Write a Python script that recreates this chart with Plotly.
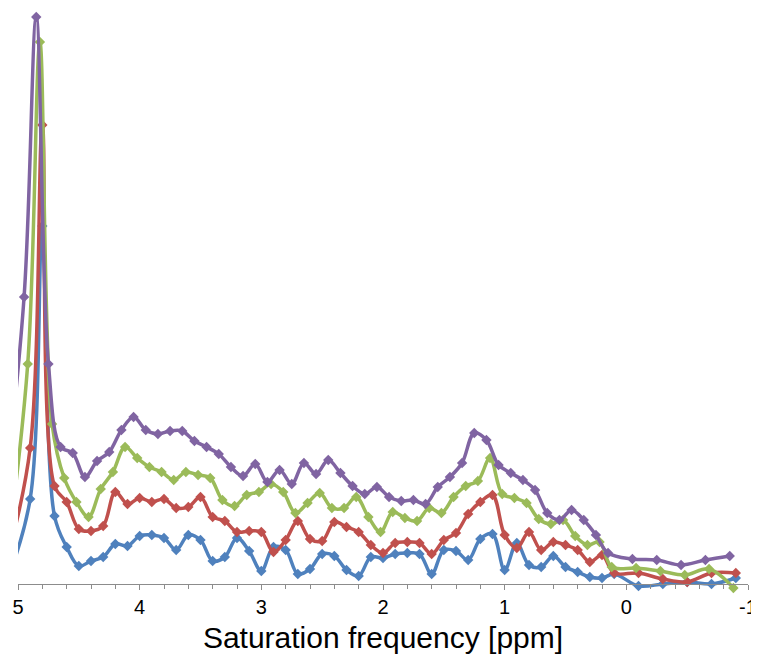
import plotly.graph_objects as go

# Saturation frequency offsets [ppm] for each series
ppm_blue = [5.1, 4.9, 4.8, 4.7, 4.6, 4.5, 4.4, 4.3, 4.2, 4.1, 4.0, 3.9, 3.8, 3.7, 3.6, 3.5, 3.4, 3.3, 3.2, 3.1,
            3.0, 2.9, 2.8, 2.7, 2.6, 2.5, 2.4, 2.3, 2.2, 2.1, 2.0, 1.9, 1.8, 1.7, 1.6, 1.5, 1.4, 1.3, 1.2, 1.1,
            1.0, 0.9, 0.8, 0.7, 0.6, 0.5, 0.4, 0.3, 0.2, 0.1, -0.1, -0.3, -0.5, -0.7, -0.9]
ppm_red = [5.1, 4.9, 4.8, 4.7, 4.6, 4.5, 4.4, 4.3, 4.2, 4.1, 4.0, 3.9, 3.8, 3.7, 3.6, 3.5, 3.4, 3.3, 3.2, 3.1,
           3.0, 2.9, 2.8, 2.7, 2.6, 2.5, 2.4, 2.3, 2.2, 2.1, 2.0, 1.9, 1.8, 1.7, 1.6, 1.5, 1.4, 1.3, 1.2, 1.1,
           1.0, 0.9, 0.8, 0.7, 0.6, 0.5, 0.4, 0.3, 0.2, 0.1, -0.1, -0.3, -0.5, -0.7, -0.9]
ppm_green = [5.12, 4.92, 4.82, 4.72, 4.62, 4.52, 4.42, 4.32, 4.22, 4.12, 4.02, 3.92, 3.82, 3.72, 3.62, 3.52,
             3.42, 3.32, 3.22, 3.12, 3.02, 2.92, 2.82, 2.72, 2.62, 2.52, 2.42, 2.32, 2.22, 2.12, 2.02, 1.92,
             1.82, 1.72, 1.62, 1.52, 1.42, 1.32, 1.22, 1.12, 1.02, 0.92, 0.82, 0.72, 0.62, 0.52, 0.42, 0.32,
             0.22, 0.12, -0.08, -0.28, -0.48, -0.68, -0.88]
ppm_purple = [5.15, 4.95, 4.85, 4.75, 4.65, 4.55, 4.45, 4.35, 4.25, 4.15, 4.05, 3.95, 3.85, 3.75, 3.65, 3.55,
              3.45, 3.35, 3.25, 3.15, 3.05, 2.95, 2.85, 2.75, 2.65, 2.55, 2.45, 2.35, 2.25, 2.15, 2.05, 1.95,
              1.85, 1.75, 1.65, 1.55, 1.45, 1.35, 1.25, 1.15, 1.05, 0.95, 0.85, 0.75, 0.65, 0.55, 0.45, 0.35,
              0.25, 0.15, -0.05, -0.25, -0.45, -0.65, -0.85]

# Signal (arbitrary units)
sig_blue = [0, 85, 358, 68, 37, 18, 23, 27, 40, 38, 48,
            49, 46, 34, 49, 44, 23, 27, 46, 33, 13,
            37, 34, 10, 15, 30, 28, 14, 8, 27, 26,
            30, 31, 30, 10, 34, 33, 24, 45, 50, 14,
            41, 19, 17, 28, 17, 12, 7, 6, 10,
            -2, 0, 2, 0, 6]
sig_red = [20, 136, 459, 98, 82, 55, 53, 58, 92, 80, 86,
           82, 85, 76, 77, 87, 67, 63, 52, 53, 52,
           32, 44, 63, 45, 43, 62, 57, 52, 39, 31,
           41, 42, 41, 30, 44, 51, 70, 82, 89, 49,
           36, 52, 34, 42, 39, 34, 22, 29, 11,
           11, 5, 2, 11, 11]
sig_green = [0, 220, 542, 160, 106, 82, 67, 95, 112, 137, 126,
             117, 112, 104, 112, 109, 106, 84, 78, 89, 92,
             100, 92, 71, 81, 91, 76, 76, 87, 67, 52,
             72, 66, 63, 76, 71, 87, 98, 103, 126, 90,
             86, 81, 65, 60, 64, 48, 39, 42, 17,
             16, 13, 9, 15, -4]
sig_purple = [40, 287, 567, 220, 137, 131, 107, 123, 132, 154, 167,
              154, 150, 153, 153, 143, 137, 130, 117, 108, 120,
              102, 114, 100, 121, 110, 124, 111, 98, 90, 97,
              87, 83, 84, 80, 97, 107, 121, 151, 144, 119,
              111, 104, 94, 71, 64, 74, 64, 49, 31,
              25, 24, 19, 24, 28]

series = [
    (ppm_blue, sig_blue, "#4F81BD"),
    (ppm_red, sig_red, "#C0504D"),
    (ppm_green, sig_green, "#9BBB59"),
    (ppm_purple, sig_purple, "#8064A2"),
]

fig = go.Figure()
for xs, ys, col in series:
    fig.add_trace(go.Scatter(
        x=xs, y=ys, mode="lines+markers",
        line=dict(color=col, width=3.5, shape="spline", smoothing=1.0),
        marker=dict(symbol="diamond", size=8, color=col),
        showlegend=False, hoverinfo="skip",
    ))

y_min, y_max = -14, 574
axis_pos = (0 - y_min) / (y_max - y_min)

fig.update_layout(
    width=751, height=650,
    margin=dict(l=10, r=11, t=2, b=60),
    paper_bgcolor="white", plot_bgcolor="white",
    font=dict(family="Liberation Sans, Arial, sans-serif", color="#000000"),
    xaxis=dict(
        range=[5, -1], anchor="free", position=axis_pos,
        showgrid=False, zeroline=False,
        showline=True, linecolor="#8C8C8C", linewidth=1,
        ticks="outside", ticklen=5, tickcolor="#8C8C8C", tickwidth=1,
        tickmode="array", tickvals=[5, 4, 3, 2, 1, 0, -1],
        ticktext=["5", "4", "3", "2", "1", "0", "-1"],
        tickfont=dict(size=20, color="#000000"),
        minor=dict(dtick=0.2, ticks="outside", ticklen=4, tickcolor="#8C8C8C", showgrid=False),
        title=dict(text="Saturation frequency [ppm]", font=dict(size=30, color="#000000"), standoff=9),
        automargin=False,
    ),
    yaxis=dict(range=[y_min, y_max], visible=False, showgrid=False, zeroline=False),
)

fig.write_html("out.html")
